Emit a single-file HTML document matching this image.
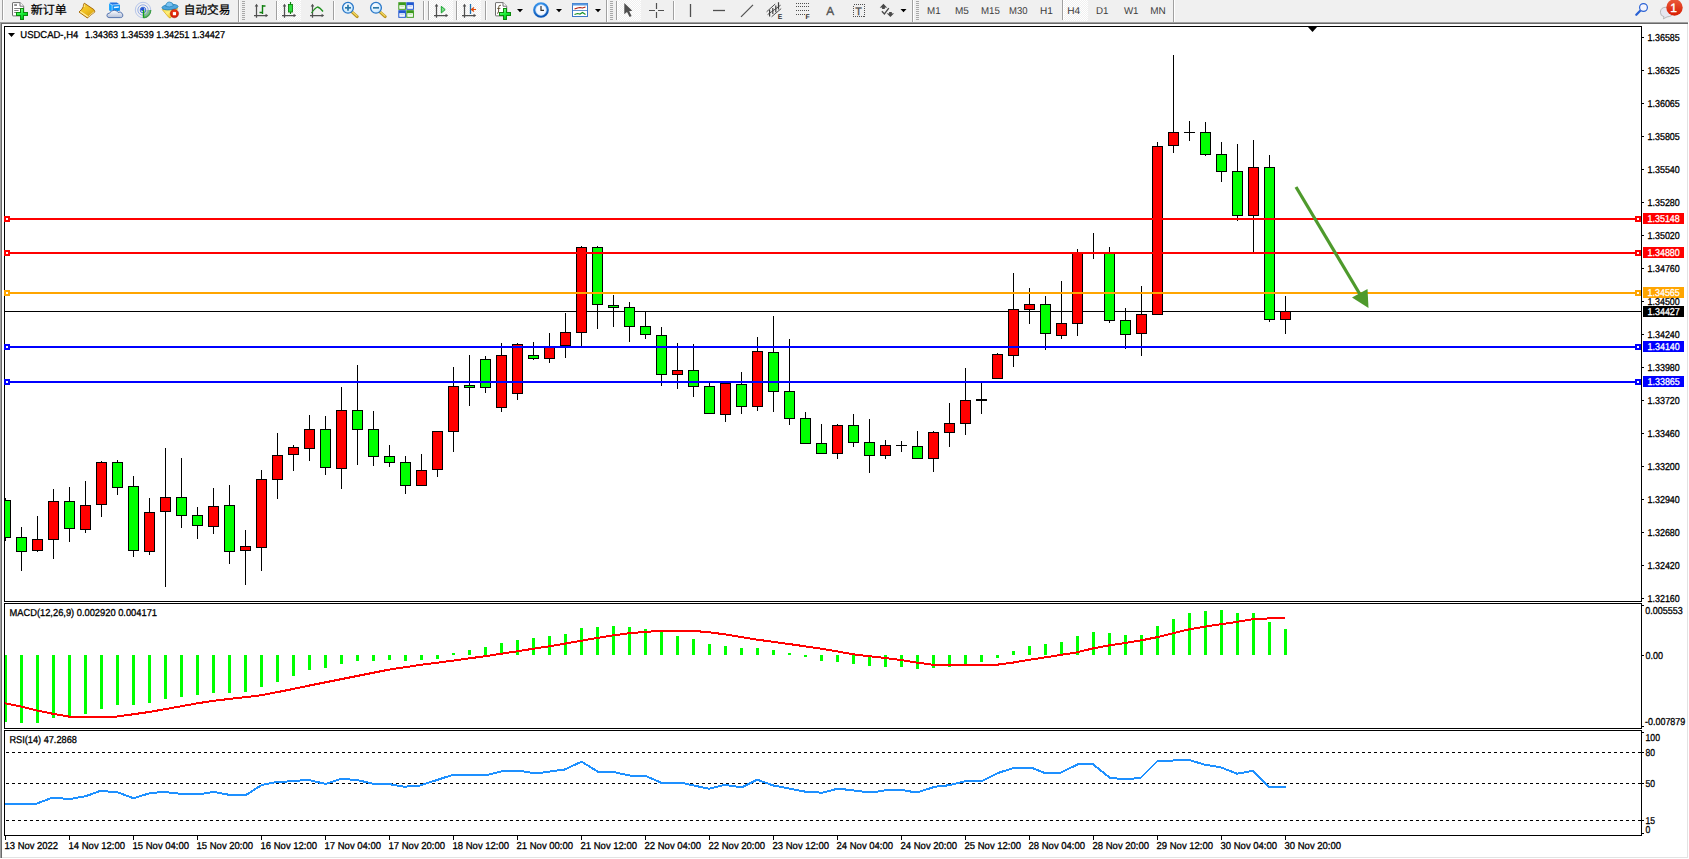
<!DOCTYPE html>
<html lang="zh"><head><meta charset="utf-8"><title>USDCAD-,H4</title>
<style>html,body{margin:0;padding:0;background:#fff;overflow:hidden}svg{display:block}text{font-family:"Liberation Sans", "Noto Sans CJK SC", sans-serif;text-rendering:geometricPrecision}.ax{font-size:10px;fill:#000;stroke:#000;stroke-width:0.3px}.tb{font-size:10px;fill:#3c3c3c;stroke:none}.cj{font-size:12px;fill:#000;stroke:#000;stroke-width:0.25px}</style></head><body>
<svg width="1689" height="859" viewBox="0 0 1689 859">
<defs><pattern id="chk" width="2" height="2" patternUnits="userSpaceOnUse"><rect width="2" height="2" fill="#f0f0f0"/><rect width="1" height="1" fill="#fff"/><rect x="1" y="1" width="1" height="1" fill="#fff"/></pattern><linearGradient id="gplus" x1="0" y1="0" x2="0.6" y2="1"><stop offset="0" stop-color="#9dffa0"/><stop offset="0.55" stop-color="#1cf03a"/><stop offset="1" stop-color="#00c018"/></linearGradient><linearGradient id="gold" x1="0.2" y1="0" x2="0.8" y2="1"><stop offset="0" stop-color="#f6cf3a"/><stop offset="0.5" stop-color="#f0c020"/><stop offset="1" stop-color="#d09a10"/></linearGradient><linearGradient id="cloud" x1="0" y1="0" x2="0" y2="1"><stop offset="0" stop-color="#ffffff"/><stop offset="1" stop-color="#b4c0d8"/></linearGradient><radialGradient id="sig" cx="0" cy="0" r="1"><stop offset="0" stop-color="#e6f2e0"/><stop offset="0.6" stop-color="#a8d4a0"/><stop offset="1" stop-color="#4aa84e"/></radialGradient><linearGradient id="face" x1="0" y1="0" x2="0.6" y2="1"><stop offset="0" stop-color="#f6d640"/><stop offset="0.5" stop-color="#fff07a"/><stop offset="1" stop-color="#ecc020"/></linearGradient><radialGradient id="stop" cx="0.5" cy="0.4" r="0.6"><stop offset="0" stop-color="#ff4a20"/><stop offset="1" stop-color="#c81400"/></radialGradient><linearGradient id="blu" x1="0" y1="0" x2="0" y2="1"><stop offset="0" stop-color="#6db6ff"/><stop offset="1" stop-color="#1560c8"/></linearGradient><radialGradient id="lens" cx="0.4" cy="0.35" r="0.7"><stop offset="0" stop-color="#ffffff"/><stop offset="1" stop-color="#bfe4ff"/></radialGradient><linearGradient id="clk" x1="0" y1="0" x2="0.3" y2="1"><stop offset="0" stop-color="#3a98f0"/><stop offset="1" stop-color="#0c58b8"/></linearGradient><linearGradient id="badge" x1="0" y1="0" x2="0" y2="1"><stop offset="0" stop-color="#ea5a3a"/><stop offset="1" stop-color="#d81c00"/></linearGradient><clipPath id="plot"><rect x="5" y="27" width="1636" height="808"/></clipPath></defs>
<rect x="0" y="0" width="1689" height="859" fill="#ffffff"/>
<rect x="0" y="0" width="1689" height="22" fill="#f0f0f0"/>
<g shape-rendering="crispEdges">
<rect x="0" y="22" width="1689" height="1" fill="#a0a0a0"/>
<rect x="0" y="23" width="1689" height="1" fill="#696969"/>
<rect x="0" y="22" width="1" height="837" fill="#a0a0a0"/>
<rect x="1" y="23" width="1" height="836" fill="#696969"/>
<rect x="1687" y="24" width="1" height="835" fill="#e3e3e3"/>
<rect x="1688" y="22" width="1" height="837" fill="#ffffff"/>
<rect x="2" y="857" width="1686" height="1" fill="#e3e3e3"/>
<rect x="0" y="858" width="1689" height="1" fill="#ffffff"/>
<rect x="4" y="26" width="1" height="810" fill="#000"/>
<rect x="1641" y="26" width="1" height="810" fill="#000"/>
<rect x="4" y="26" width="1638" height="1" fill="#000"/>
<rect x="4" y="601" width="1638" height="1" fill="#000"/>
<rect x="4" y="603" width="1638" height="1" fill="#000"/>
<rect x="4" y="728" width="1638" height="1" fill="#000"/>
<rect x="4" y="730" width="1638" height="1" fill="#000"/>
<rect x="4" y="835" width="1638" height="1" fill="#000"/>
<rect x="4" y="602" width="1638" height="1" fill="#fff"/>
<rect x="4" y="729" width="1638" height="1" fill="#fff"/>
</g>
<g shape-rendering="crispEdges">
<rect x="5" y="218" width="1636" height="2" fill="#ff0000"/>
<rect x="1643" y="213" width="41" height="11" fill="#ff0000"/>
<rect x="5" y="252" width="1636" height="2" fill="#ff0000"/>
<rect x="1643" y="247" width="41" height="11" fill="#ff0000"/>
<rect x="5" y="292" width="1636" height="2" fill="#ffa500"/>
<rect x="1643" y="287" width="41" height="11" fill="#ffa500"/>
<rect x="5" y="311" width="1636" height="1" fill="#000"/>
<rect x="1643" y="306" width="41" height="11" fill="#000"/>
<rect x="5" y="346" width="1636" height="2" fill="#0000ff"/>
<rect x="1643" y="341" width="41" height="11" fill="#0000ff"/>
<rect x="5" y="381" width="1636" height="2" fill="#0000ff"/>
<rect x="1643" y="376" width="41" height="11" fill="#0000ff"/>
</g>
<g shape-rendering="crispEdges" clip-path="url(#plot)">
<rect x="5" y="498" width="1" height="43" fill="#000"/>
<rect x="0" y="500" width="11" height="38" fill="#000"/>
<rect x="1" y="501" width="9" height="36" fill="#00ff00"/>
<rect x="21" y="527" width="1" height="44" fill="#000"/>
<rect x="16" y="537" width="11" height="15" fill="#000"/>
<rect x="17" y="538" width="9" height="13" fill="#00ff00"/>
<rect x="37" y="516" width="1" height="36" fill="#000"/>
<rect x="32" y="539" width="11" height="12" fill="#000"/>
<rect x="33" y="540" width="9" height="10" fill="#ff0000"/>
<rect x="53" y="489" width="1" height="70" fill="#000"/>
<rect x="48" y="501" width="11" height="39" fill="#000"/>
<rect x="49" y="502" width="9" height="37" fill="#ff0000"/>
<rect x="69" y="487" width="1" height="55" fill="#000"/>
<rect x="64" y="501" width="11" height="28" fill="#000"/>
<rect x="65" y="502" width="9" height="26" fill="#00ff00"/>
<rect x="85" y="481" width="1" height="52" fill="#000"/>
<rect x="80" y="505" width="11" height="25" fill="#000"/>
<rect x="81" y="506" width="9" height="23" fill="#ff0000"/>
<rect x="101" y="461" width="1" height="56" fill="#000"/>
<rect x="96" y="462" width="11" height="43" fill="#000"/>
<rect x="97" y="463" width="9" height="41" fill="#ff0000"/>
<rect x="117" y="460" width="1" height="35" fill="#000"/>
<rect x="112" y="462" width="11" height="26" fill="#000"/>
<rect x="113" y="463" width="9" height="24" fill="#00ff00"/>
<rect x="133" y="476" width="1" height="81" fill="#000"/>
<rect x="128" y="486" width="11" height="65" fill="#000"/>
<rect x="129" y="487" width="9" height="63" fill="#00ff00"/>
<rect x="149" y="498" width="1" height="57" fill="#000"/>
<rect x="144" y="512" width="11" height="40" fill="#000"/>
<rect x="145" y="513" width="9" height="38" fill="#ff0000"/>
<rect x="165" y="448" width="1" height="139" fill="#000"/>
<rect x="160" y="497" width="11" height="15" fill="#000"/>
<rect x="161" y="498" width="9" height="13" fill="#ff0000"/>
<rect x="181" y="458" width="1" height="70" fill="#000"/>
<rect x="176" y="497" width="11" height="19" fill="#000"/>
<rect x="177" y="498" width="9" height="17" fill="#00ff00"/>
<rect x="197" y="507" width="1" height="32" fill="#000"/>
<rect x="192" y="515" width="11" height="11" fill="#000"/>
<rect x="193" y="516" width="9" height="9" fill="#00ff00"/>
<rect x="213" y="488" width="1" height="46" fill="#000"/>
<rect x="208" y="506" width="11" height="21" fill="#000"/>
<rect x="209" y="507" width="9" height="19" fill="#ff0000"/>
<rect x="229" y="485" width="1" height="79" fill="#000"/>
<rect x="224" y="505" width="11" height="47" fill="#000"/>
<rect x="225" y="506" width="9" height="45" fill="#00ff00"/>
<rect x="245" y="530" width="1" height="55" fill="#000"/>
<rect x="240" y="546" width="11" height="5" fill="#000"/>
<rect x="241" y="547" width="9" height="3" fill="#ff0000"/>
<rect x="261" y="470" width="1" height="101" fill="#000"/>
<rect x="256" y="479" width="11" height="69" fill="#000"/>
<rect x="257" y="480" width="9" height="67" fill="#ff0000"/>
<rect x="277" y="433" width="1" height="66" fill="#000"/>
<rect x="272" y="455" width="11" height="25" fill="#000"/>
<rect x="273" y="456" width="9" height="23" fill="#ff0000"/>
<rect x="293" y="445" width="1" height="26" fill="#000"/>
<rect x="288" y="447" width="11" height="8" fill="#000"/>
<rect x="289" y="448" width="9" height="6" fill="#ff0000"/>
<rect x="309" y="415" width="1" height="46" fill="#000"/>
<rect x="304" y="429" width="11" height="20" fill="#000"/>
<rect x="305" y="430" width="9" height="18" fill="#ff0000"/>
<rect x="325" y="416" width="1" height="59" fill="#000"/>
<rect x="320" y="429" width="11" height="39" fill="#000"/>
<rect x="321" y="430" width="9" height="37" fill="#00ff00"/>
<rect x="341" y="387" width="1" height="102" fill="#000"/>
<rect x="336" y="410" width="11" height="59" fill="#000"/>
<rect x="337" y="411" width="9" height="57" fill="#ff0000"/>
<rect x="357" y="365" width="1" height="100" fill="#000"/>
<rect x="352" y="410" width="11" height="20" fill="#000"/>
<rect x="353" y="411" width="9" height="18" fill="#00ff00"/>
<rect x="373" y="411" width="1" height="55" fill="#000"/>
<rect x="368" y="429" width="11" height="28" fill="#000"/>
<rect x="369" y="430" width="9" height="26" fill="#00ff00"/>
<rect x="389" y="445" width="1" height="22" fill="#000"/>
<rect x="384" y="456" width="11" height="7" fill="#000"/>
<rect x="385" y="457" width="9" height="5" fill="#00ff00"/>
<rect x="405" y="456" width="1" height="38" fill="#000"/>
<rect x="400" y="462" width="11" height="24" fill="#000"/>
<rect x="401" y="463" width="9" height="22" fill="#00ff00"/>
<rect x="421" y="454" width="1" height="32" fill="#000"/>
<rect x="416" y="470" width="11" height="16" fill="#000"/>
<rect x="417" y="471" width="9" height="14" fill="#ff0000"/>
<rect x="437" y="431" width="1" height="46" fill="#000"/>
<rect x="432" y="431" width="11" height="39" fill="#000"/>
<rect x="433" y="432" width="9" height="37" fill="#ff0000"/>
<rect x="453" y="367" width="1" height="85" fill="#000"/>
<rect x="448" y="386" width="11" height="46" fill="#000"/>
<rect x="449" y="387" width="9" height="44" fill="#ff0000"/>
<rect x="469" y="355" width="1" height="51" fill="#000"/>
<rect x="464" y="385" width="11" height="3" fill="#000"/>
<rect x="465" y="386" width="9" height="1" fill="#00ff00"/>
<rect x="485" y="356" width="1" height="37" fill="#000"/>
<rect x="480" y="359" width="11" height="29" fill="#000"/>
<rect x="481" y="360" width="9" height="27" fill="#00ff00"/>
<rect x="501" y="343" width="1" height="69" fill="#000"/>
<rect x="496" y="355" width="11" height="53" fill="#000"/>
<rect x="497" y="356" width="9" height="51" fill="#ff0000"/>
<rect x="517" y="343" width="1" height="57" fill="#000"/>
<rect x="512" y="344" width="11" height="50" fill="#000"/>
<rect x="513" y="345" width="9" height="48" fill="#ff0000"/>
<rect x="533" y="342" width="1" height="18" fill="#000"/>
<rect x="528" y="355" width="11" height="4" fill="#000"/>
<rect x="529" y="356" width="9" height="2" fill="#00ff00"/>
<rect x="549" y="333" width="1" height="30" fill="#000"/>
<rect x="544" y="346" width="11" height="13" fill="#000"/>
<rect x="545" y="347" width="9" height="11" fill="#ff0000"/>
<rect x="565" y="313" width="1" height="45" fill="#000"/>
<rect x="560" y="332" width="11" height="14" fill="#000"/>
<rect x="561" y="333" width="9" height="12" fill="#ff0000"/>
<rect x="581" y="246" width="1" height="100" fill="#000"/>
<rect x="576" y="247" width="11" height="86" fill="#000"/>
<rect x="577" y="248" width="9" height="84" fill="#ff0000"/>
<rect x="597" y="246" width="1" height="83" fill="#000"/>
<rect x="592" y="247" width="11" height="58" fill="#000"/>
<rect x="593" y="248" width="9" height="56" fill="#00ff00"/>
<rect x="613" y="295" width="1" height="32" fill="#000"/>
<rect x="608" y="305" width="11" height="3" fill="#000"/>
<rect x="609" y="306" width="9" height="1" fill="#00ff00"/>
<rect x="629" y="302" width="1" height="40" fill="#000"/>
<rect x="624" y="307" width="11" height="20" fill="#000"/>
<rect x="625" y="308" width="9" height="18" fill="#00ff00"/>
<rect x="645" y="311" width="1" height="28" fill="#000"/>
<rect x="640" y="326" width="11" height="9" fill="#000"/>
<rect x="641" y="327" width="9" height="7" fill="#00ff00"/>
<rect x="661" y="327" width="1" height="59" fill="#000"/>
<rect x="656" y="335" width="11" height="40" fill="#000"/>
<rect x="657" y="336" width="9" height="38" fill="#00ff00"/>
<rect x="677" y="343" width="1" height="46" fill="#000"/>
<rect x="672" y="370" width="11" height="5" fill="#000"/>
<rect x="673" y="371" width="9" height="3" fill="#ff0000"/>
<rect x="693" y="344" width="1" height="53" fill="#000"/>
<rect x="688" y="370" width="11" height="17" fill="#000"/>
<rect x="689" y="371" width="9" height="15" fill="#00ff00"/>
<rect x="709" y="383" width="1" height="31" fill="#000"/>
<rect x="704" y="386" width="11" height="28" fill="#000"/>
<rect x="705" y="387" width="9" height="26" fill="#00ff00"/>
<rect x="725" y="383" width="1" height="39" fill="#000"/>
<rect x="720" y="383" width="11" height="32" fill="#000"/>
<rect x="721" y="384" width="9" height="30" fill="#ff0000"/>
<rect x="741" y="372" width="1" height="42" fill="#000"/>
<rect x="736" y="384" width="11" height="23" fill="#000"/>
<rect x="737" y="385" width="9" height="21" fill="#00ff00"/>
<rect x="757" y="337" width="1" height="74" fill="#000"/>
<rect x="752" y="351" width="11" height="56" fill="#000"/>
<rect x="753" y="352" width="9" height="54" fill="#ff0000"/>
<rect x="773" y="316" width="1" height="96" fill="#000"/>
<rect x="768" y="352" width="11" height="40" fill="#000"/>
<rect x="769" y="353" width="9" height="38" fill="#00ff00"/>
<rect x="789" y="339" width="1" height="86" fill="#000"/>
<rect x="784" y="391" width="11" height="28" fill="#000"/>
<rect x="785" y="392" width="9" height="26" fill="#00ff00"/>
<rect x="805" y="412" width="1" height="32" fill="#000"/>
<rect x="800" y="418" width="11" height="26" fill="#000"/>
<rect x="801" y="419" width="9" height="24" fill="#00ff00"/>
<rect x="821" y="424" width="1" height="30" fill="#000"/>
<rect x="816" y="443" width="11" height="11" fill="#000"/>
<rect x="817" y="444" width="9" height="9" fill="#00ff00"/>
<rect x="837" y="424" width="1" height="35" fill="#000"/>
<rect x="832" y="425" width="11" height="29" fill="#000"/>
<rect x="833" y="426" width="9" height="27" fill="#ff0000"/>
<rect x="853" y="414" width="1" height="33" fill="#000"/>
<rect x="848" y="425" width="11" height="18" fill="#000"/>
<rect x="849" y="426" width="9" height="16" fill="#00ff00"/>
<rect x="869" y="419" width="1" height="54" fill="#000"/>
<rect x="864" y="442" width="11" height="14" fill="#000"/>
<rect x="865" y="443" width="9" height="12" fill="#00ff00"/>
<rect x="885" y="440" width="1" height="19" fill="#000"/>
<rect x="880" y="445" width="11" height="11" fill="#000"/>
<rect x="881" y="446" width="9" height="9" fill="#ff0000"/>
<rect x="901" y="441" width="1" height="11" fill="#000"/>
<rect x="896" y="445" width="11" height="1" fill="#000"/>
<rect x="917" y="431" width="1" height="28" fill="#000"/>
<rect x="912" y="446" width="11" height="13" fill="#000"/>
<rect x="913" y="447" width="9" height="11" fill="#00ff00"/>
<rect x="933" y="431" width="1" height="41" fill="#000"/>
<rect x="928" y="432" width="11" height="27" fill="#000"/>
<rect x="929" y="433" width="9" height="25" fill="#ff0000"/>
<rect x="949" y="403" width="1" height="44" fill="#000"/>
<rect x="944" y="423" width="11" height="10" fill="#000"/>
<rect x="945" y="424" width="9" height="8" fill="#ff0000"/>
<rect x="965" y="368" width="1" height="67" fill="#000"/>
<rect x="960" y="400" width="11" height="24" fill="#000"/>
<rect x="961" y="401" width="9" height="22" fill="#ff0000"/>
<rect x="981" y="383" width="1" height="31" fill="#000"/>
<rect x="976" y="399" width="11" height="2" fill="#000"/>
<rect x="997" y="353" width="1" height="26" fill="#000"/>
<rect x="992" y="354" width="11" height="25" fill="#000"/>
<rect x="993" y="355" width="9" height="23" fill="#ff0000"/>
<rect x="1013" y="273" width="1" height="94" fill="#000"/>
<rect x="1008" y="309" width="11" height="47" fill="#000"/>
<rect x="1009" y="310" width="9" height="45" fill="#ff0000"/>
<rect x="1029" y="288" width="1" height="36" fill="#000"/>
<rect x="1024" y="304" width="11" height="6" fill="#000"/>
<rect x="1025" y="305" width="9" height="4" fill="#ff0000"/>
<rect x="1045" y="296" width="1" height="54" fill="#000"/>
<rect x="1040" y="304" width="11" height="30" fill="#000"/>
<rect x="1041" y="305" width="9" height="28" fill="#00ff00"/>
<rect x="1061" y="281" width="1" height="58" fill="#000"/>
<rect x="1056" y="323" width="11" height="13" fill="#000"/>
<rect x="1057" y="324" width="9" height="11" fill="#ff0000"/>
<rect x="1077" y="249" width="1" height="87" fill="#000"/>
<rect x="1072" y="252" width="11" height="72" fill="#000"/>
<rect x="1073" y="253" width="9" height="70" fill="#ff0000"/>
<rect x="1093" y="233" width="1" height="26" fill="#000"/>
<rect x="1088" y="252" width="11" height="1" fill="#000"/>
<rect x="1109" y="247" width="1" height="76" fill="#000"/>
<rect x="1104" y="252" width="11" height="69" fill="#000"/>
<rect x="1105" y="253" width="9" height="67" fill="#00ff00"/>
<rect x="1125" y="308" width="1" height="41" fill="#000"/>
<rect x="1120" y="320" width="11" height="15" fill="#000"/>
<rect x="1121" y="321" width="9" height="13" fill="#00ff00"/>
<rect x="1141" y="286" width="1" height="70" fill="#000"/>
<rect x="1136" y="314" width="11" height="20" fill="#000"/>
<rect x="1137" y="315" width="9" height="18" fill="#ff0000"/>
<rect x="1157" y="142" width="1" height="173" fill="#000"/>
<rect x="1152" y="146" width="11" height="169" fill="#000"/>
<rect x="1153" y="147" width="9" height="167" fill="#ff0000"/>
<rect x="1173" y="55" width="1" height="98" fill="#000"/>
<rect x="1168" y="132" width="11" height="14" fill="#000"/>
<rect x="1169" y="133" width="9" height="12" fill="#ff0000"/>
<rect x="1189" y="121" width="1" height="20" fill="#000"/>
<rect x="1184" y="132" width="11" height="1" fill="#000"/>
<rect x="1205" y="122" width="1" height="34" fill="#000"/>
<rect x="1200" y="132" width="11" height="23" fill="#000"/>
<rect x="1201" y="133" width="9" height="21" fill="#00ff00"/>
<rect x="1221" y="142" width="1" height="40" fill="#000"/>
<rect x="1216" y="154" width="11" height="18" fill="#000"/>
<rect x="1217" y="155" width="9" height="16" fill="#00ff00"/>
<rect x="1237" y="144" width="1" height="77" fill="#000"/>
<rect x="1232" y="171" width="11" height="45" fill="#000"/>
<rect x="1233" y="172" width="9" height="43" fill="#00ff00"/>
<rect x="1253" y="140" width="1" height="112" fill="#000"/>
<rect x="1248" y="167" width="11" height="49" fill="#000"/>
<rect x="1249" y="168" width="9" height="47" fill="#ff0000"/>
<rect x="1269" y="155" width="1" height="167" fill="#000"/>
<rect x="1264" y="167" width="11" height="153" fill="#000"/>
<rect x="1265" y="168" width="9" height="151" fill="#00ff00"/>
<rect x="1285" y="296" width="1" height="38" fill="#000"/>
<rect x="1280" y="311" width="11" height="9" fill="#000"/>
<rect x="1281" y="312" width="9" height="7" fill="#ff0000"/>
</g>
<g shape-rendering="crispEdges">
<rect x="5" y="218" width="1636" height="2" fill="#ff0000"/>
<rect x="4" y="216" width="6" height="6" fill="#ff0000"/>
<rect x="6" y="218" width="2" height="2" fill="#fff"/>
<rect x="1635" y="216" width="6" height="6" fill="#ff0000"/>
<rect x="1637" y="218" width="2" height="2" fill="#fff"/>
<rect x="5" y="252" width="1636" height="2" fill="#ff0000"/>
<rect x="4" y="250" width="6" height="6" fill="#ff0000"/>
<rect x="6" y="252" width="2" height="2" fill="#fff"/>
<rect x="1635" y="250" width="6" height="6" fill="#ff0000"/>
<rect x="1637" y="252" width="2" height="2" fill="#fff"/>
<rect x="5" y="292" width="1636" height="2" fill="#ffa500"/>
<rect x="4" y="290" width="6" height="6" fill="#ffa500"/>
<rect x="6" y="292" width="2" height="2" fill="#fff"/>
<rect x="1635" y="290" width="6" height="6" fill="#ffa500"/>
<rect x="1637" y="292" width="2" height="2" fill="#fff"/>
<rect x="5" y="346" width="1636" height="2" fill="#0000ff"/>
<rect x="4" y="344" width="6" height="6" fill="#0000ff"/>
<rect x="6" y="346" width="2" height="2" fill="#fff"/>
<rect x="1635" y="344" width="6" height="6" fill="#0000ff"/>
<rect x="1637" y="346" width="2" height="2" fill="#fff"/>
<rect x="5" y="381" width="1636" height="2" fill="#0000ff"/>
<rect x="4" y="379" width="6" height="6" fill="#0000ff"/>
<rect x="6" y="381" width="2" height="2" fill="#fff"/>
<rect x="1635" y="379" width="6" height="6" fill="#0000ff"/>
<rect x="1637" y="381" width="2" height="2" fill="#fff"/>
</g>
<polygon points="1307.5,26.5 1317.5,26.5 1312.5,32" fill="#000"/>
<line x1="1296" y1="187" x2="1361" y2="296" stroke="#4e9a2c" stroke-width="3.2"/>
<polygon points="1368.5,308 1352,297.5 1367.5,289" fill="#4e9a2c"/>
<g shape-rendering="crispEdges" clip-path="url(#plot)">
<rect x="4" y="655" width="3" height="67" fill="#00ff00"/>
<rect x="20" y="655" width="3" height="68" fill="#00ff00"/>
<rect x="36" y="655" width="3" height="68" fill="#00ff00"/>
<rect x="52" y="655" width="3" height="63" fill="#00ff00"/>
<rect x="68" y="655" width="3" height="62" fill="#00ff00"/>
<rect x="84" y="655" width="3" height="59" fill="#00ff00"/>
<rect x="100" y="655" width="3" height="54" fill="#00ff00"/>
<rect x="116" y="655" width="3" height="50" fill="#00ff00"/>
<rect x="132" y="655" width="3" height="50" fill="#00ff00"/>
<rect x="148" y="655" width="3" height="48" fill="#00ff00"/>
<rect x="164" y="655" width="3" height="44" fill="#00ff00"/>
<rect x="180" y="655" width="3" height="42" fill="#00ff00"/>
<rect x="196" y="655" width="3" height="40" fill="#00ff00"/>
<rect x="212" y="655" width="3" height="38" fill="#00ff00"/>
<rect x="228" y="655" width="3" height="38" fill="#00ff00"/>
<rect x="244" y="655" width="3" height="37" fill="#00ff00"/>
<rect x="260" y="655" width="3" height="32" fill="#00ff00"/>
<rect x="276" y="655" width="3" height="27" fill="#00ff00"/>
<rect x="292" y="655" width="3" height="21" fill="#00ff00"/>
<rect x="308" y="655" width="3" height="15" fill="#00ff00"/>
<rect x="324" y="655" width="3" height="13" fill="#00ff00"/>
<rect x="340" y="655" width="3" height="9" fill="#00ff00"/>
<rect x="356" y="655" width="3" height="6" fill="#00ff00"/>
<rect x="372" y="655" width="3" height="6" fill="#00ff00"/>
<rect x="388" y="655" width="3" height="5" fill="#00ff00"/>
<rect x="404" y="655" width="3" height="6" fill="#00ff00"/>
<rect x="420" y="655" width="3" height="5" fill="#00ff00"/>
<rect x="436" y="655" width="3" height="4" fill="#00ff00"/>
<rect x="452" y="653" width="3" height="2" fill="#00ff00"/>
<rect x="468" y="650" width="3" height="5" fill="#00ff00"/>
<rect x="484" y="647" width="3" height="8" fill="#00ff00"/>
<rect x="500" y="643" width="3" height="12" fill="#00ff00"/>
<rect x="516" y="640" width="3" height="15" fill="#00ff00"/>
<rect x="532" y="638" width="3" height="17" fill="#00ff00"/>
<rect x="548" y="636" width="3" height="19" fill="#00ff00"/>
<rect x="564" y="634" width="3" height="21" fill="#00ff00"/>
<rect x="580" y="628" width="3" height="27" fill="#00ff00"/>
<rect x="596" y="627" width="3" height="28" fill="#00ff00"/>
<rect x="612" y="626" width="3" height="29" fill="#00ff00"/>
<rect x="628" y="627" width="3" height="28" fill="#00ff00"/>
<rect x="644" y="629" width="3" height="26" fill="#00ff00"/>
<rect x="660" y="632" width="3" height="23" fill="#00ff00"/>
<rect x="676" y="636" width="3" height="19" fill="#00ff00"/>
<rect x="692" y="639" width="3" height="16" fill="#00ff00"/>
<rect x="708" y="644" width="3" height="11" fill="#00ff00"/>
<rect x="724" y="646" width="3" height="9" fill="#00ff00"/>
<rect x="740" y="648" width="3" height="7" fill="#00ff00"/>
<rect x="756" y="648" width="3" height="7" fill="#00ff00"/>
<rect x="772" y="650" width="3" height="5" fill="#00ff00"/>
<rect x="788" y="653" width="3" height="2" fill="#00ff00"/>
<rect x="804" y="655" width="3" height="2" fill="#00ff00"/>
<rect x="820" y="655" width="3" height="6" fill="#00ff00"/>
<rect x="836" y="655" width="3" height="7" fill="#00ff00"/>
<rect x="852" y="655" width="3" height="9" fill="#00ff00"/>
<rect x="868" y="655" width="3" height="11" fill="#00ff00"/>
<rect x="884" y="655" width="3" height="12" fill="#00ff00"/>
<rect x="900" y="655" width="3" height="12" fill="#00ff00"/>
<rect x="916" y="655" width="3" height="14" fill="#00ff00"/>
<rect x="932" y="655" width="3" height="13" fill="#00ff00"/>
<rect x="948" y="655" width="3" height="12" fill="#00ff00"/>
<rect x="964" y="655" width="3" height="9" fill="#00ff00"/>
<rect x="980" y="655" width="3" height="7" fill="#00ff00"/>
<rect x="996" y="655" width="3" height="3" fill="#00ff00"/>
<rect x="1012" y="651" width="3" height="4" fill="#00ff00"/>
<rect x="1028" y="646" width="3" height="9" fill="#00ff00"/>
<rect x="1044" y="644" width="3" height="11" fill="#00ff00"/>
<rect x="1060" y="642" width="3" height="13" fill="#00ff00"/>
<rect x="1076" y="636" width="3" height="19" fill="#00ff00"/>
<rect x="1092" y="632" width="3" height="23" fill="#00ff00"/>
<rect x="1108" y="633" width="3" height="22" fill="#00ff00"/>
<rect x="1124" y="635" width="3" height="20" fill="#00ff00"/>
<rect x="1140" y="635" width="3" height="20" fill="#00ff00"/>
<rect x="1156" y="626" width="3" height="29" fill="#00ff00"/>
<rect x="1172" y="619" width="3" height="36" fill="#00ff00"/>
<rect x="1188" y="613" width="3" height="42" fill="#00ff00"/>
<rect x="1204" y="611" width="3" height="44" fill="#00ff00"/>
<rect x="1220" y="610" width="3" height="45" fill="#00ff00"/>
<rect x="1236" y="613" width="3" height="42" fill="#00ff00"/>
<rect x="1252" y="613" width="3" height="42" fill="#00ff00"/>
<rect x="1268" y="622" width="3" height="33" fill="#00ff00"/>
<rect x="1284" y="629" width="3" height="26" fill="#00ff00"/>
</g>
<polyline points="5,703.3 21,706.5 37,710.5 53,713.8 69,716.6 85,716.8 101,716.8 116,716.6 133,714.3 149,712 165,709.2 181,706.3 197,703.4 213,700.8 229,699 245,697.2 261,695.2 277,692.2 293,689 309,685.6 325,682.4 341,679.2 357,676 373,672.8 389,669.6 405,667.2 421,664.8 437,662.8 453,660.6 469,658.4 485,656.2 501,653.8 517,651.3 533,648.8 549,646.3 565,643.6 581,640.8 597,638 613,635.4 629,633.3 645,631.9 661,630.9 677,630.7 693,630.9 709,632.2 725,634.4 741,637 757,639.6 773,641.8 789,644 805,646.3 821,648.7 837,651.4 853,654.2 869,656.2 885,658 901,660 917,662.6 933,664.8 949,664.9 965,664.9 981,664.9 997,664.7 1013,662.6 1029,659.8 1045,657.4 1061,654.9 1077,652.3 1093,648.4 1109,645.4 1125,643 1141,640.4 1157,637.2 1173,633.2 1189,629.4 1205,626.6 1221,624.2 1237,621.9 1253,619.2 1269,618.4 1285,617.9" fill="none" stroke="#ff0000" stroke-width="2" stroke-linejoin="round" shape-rendering="crispEdges" clip-path="url(#plot)"/>
<g shape-rendering="crispEdges">
<line x1="6" y1="752.5" x2="1641" y2="752.5" stroke="#000" stroke-width="1" stroke-dasharray="3,3"/>
<line x1="6" y1="783.5" x2="1641" y2="783.5" stroke="#000" stroke-width="1" stroke-dasharray="3,3"/>
<line x1="6" y1="820.5" x2="1641" y2="820.5" stroke="#000" stroke-width="1" stroke-dasharray="3,3"/>
</g>
<polyline points="5,803.7 36.5,803.7 52.1,797.7 70.3,799 86,796.1 100.3,790.9 117.2,792.2 133.4,798.2 149.8,793.2 164.1,791.9 182.3,794 200.6,794 213.6,791.9 229.2,794.8 246.2,794.8 261.8,784.9 277.4,781.8 293,781.3 307.4,779.7 325.6,783.9 341.2,778.9 356.9,780 372.5,783.6 388.1,783.9 403.8,786.7 419.4,785.7 453.9,774.5 489,774.5 503.4,770.8 520.3,770.8 532,772.9 539.8,772.9 564.6,769.5 581.5,761.7 598.4,771.9 612.8,771.9 631,775.8 645.3,775.8 660.9,782.6 680.5,782.6 709.1,788.8 724.8,784.9 741.7,787.3 757.3,779.7 773,785.4 805.5,791.7 822.4,792.7 838.1,788.6 863.4,791.7 876.5,791.7 888.2,789.9 901.2,789.9 911.6,791.7 919.4,791.7 935.1,786.7 949.4,785.2 966.3,781 982,781 998.9,772.7 1014.5,767.7 1031.5,767.7 1044.5,772.9 1060.1,772.9 1078.3,764.1 1092.7,764.1 1109.6,777.6 1120,778.9 1131.7,778.9 1140.9,777.6 1157.8,760.7 1172.1,760.7 1177.3,759.6 1187.8,759.6 1204.7,764.6 1220.3,767.2 1237.2,773.7 1252.9,770.8 1268.5,786.7 1285.5,786.7" fill="none" stroke="#1e90ff" stroke-width="2" stroke-linejoin="round" shape-rendering="crispEdges" clip-path="url(#plot)"/>
<g shape-rendering="crispEdges">
<rect x="1642" y="37" width="2" height="1" fill="#000"/>
<rect x="1642" y="70" width="2" height="1" fill="#000"/>
<rect x="1642" y="103" width="2" height="1" fill="#000"/>
<rect x="1642" y="136" width="2" height="1" fill="#000"/>
<rect x="1642" y="169" width="2" height="1" fill="#000"/>
<rect x="1642" y="202" width="2" height="1" fill="#000"/>
<rect x="1642" y="235" width="2" height="1" fill="#000"/>
<rect x="1642" y="268" width="2" height="1" fill="#000"/>
<rect x="1642" y="301" width="2" height="1" fill="#000"/>
<rect x="1642" y="334" width="2" height="1" fill="#000"/>
<rect x="1642" y="367" width="2" height="1" fill="#000"/>
<rect x="1642" y="400" width="2" height="1" fill="#000"/>
<rect x="1642" y="433" width="2" height="1" fill="#000"/>
<rect x="1642" y="466" width="2" height="1" fill="#000"/>
<rect x="1642" y="499" width="2" height="1" fill="#000"/>
<rect x="1642" y="532" width="2" height="1" fill="#000"/>
<rect x="1642" y="565" width="2" height="1" fill="#000"/>
<rect x="1642" y="598" width="2" height="1" fill="#000"/>
<rect x="1642" y="605" width="2" height="1" fill="#000"/>
<rect x="1642" y="655" width="2" height="1" fill="#000"/>
<rect x="1642" y="726" width="2" height="1" fill="#000"/>
<rect x="1642" y="732" width="2" height="1" fill="#000"/>
<rect x="1642" y="752" width="2" height="1" fill="#000"/>
<rect x="1642" y="783" width="2" height="1" fill="#000"/>
<rect x="1642" y="820" width="2" height="1" fill="#000"/>
<rect x="1642" y="833" width="2" height="1" fill="#000"/>
<rect x="5" y="836" width="1" height="4" fill="#000"/>
<rect x="69" y="836" width="1" height="4" fill="#000"/>
<rect x="133" y="836" width="1" height="4" fill="#000"/>
<rect x="197" y="836" width="1" height="4" fill="#000"/>
<rect x="261" y="836" width="1" height="4" fill="#000"/>
<rect x="325" y="836" width="1" height="4" fill="#000"/>
<rect x="389" y="836" width="1" height="4" fill="#000"/>
<rect x="453" y="836" width="1" height="4" fill="#000"/>
<rect x="517" y="836" width="1" height="4" fill="#000"/>
<rect x="581" y="836" width="1" height="4" fill="#000"/>
<rect x="645" y="836" width="1" height="4" fill="#000"/>
<rect x="709" y="836" width="1" height="4" fill="#000"/>
<rect x="773" y="836" width="1" height="4" fill="#000"/>
<rect x="837" y="836" width="1" height="4" fill="#000"/>
<rect x="901" y="836" width="1" height="4" fill="#000"/>
<rect x="965" y="836" width="1" height="4" fill="#000"/>
<rect x="1029" y="836" width="1" height="4" fill="#000"/>
<rect x="1093" y="836" width="1" height="4" fill="#000"/>
<rect x="1157" y="836" width="1" height="4" fill="#000"/>
<rect x="1221" y="836" width="1" height="4" fill="#000"/>
<rect x="1285" y="836" width="1" height="4" fill="#000"/>
</g>
<text x="1647.5" y="40.6" class="ax" textLength="32.3" lengthAdjust="spacingAndGlyphs">1.36585</text>
<text x="1647.5" y="73.6" class="ax" textLength="32.3" lengthAdjust="spacingAndGlyphs">1.36325</text>
<text x="1647.5" y="106.6" class="ax" textLength="32.3" lengthAdjust="spacingAndGlyphs">1.36065</text>
<text x="1647.5" y="139.6" class="ax" textLength="32.3" lengthAdjust="spacingAndGlyphs">1.35805</text>
<text x="1647.5" y="172.6" class="ax" textLength="32.3" lengthAdjust="spacingAndGlyphs">1.35540</text>
<text x="1647.5" y="205.6" class="ax" textLength="32.3" lengthAdjust="spacingAndGlyphs">1.35280</text>
<text x="1647.5" y="238.6" class="ax" textLength="32.3" lengthAdjust="spacingAndGlyphs">1.35020</text>
<text x="1647.5" y="271.6" class="ax" textLength="32.3" lengthAdjust="spacingAndGlyphs">1.34760</text>
<text x="1647.5" y="304.6" class="ax" textLength="32.3" lengthAdjust="spacingAndGlyphs">1.34500</text>
<text x="1647.5" y="337.6" class="ax" textLength="32.3" lengthAdjust="spacingAndGlyphs">1.34240</text>
<text x="1647.5" y="370.6" class="ax" textLength="32.3" lengthAdjust="spacingAndGlyphs">1.33980</text>
<text x="1647.5" y="403.6" class="ax" textLength="32.3" lengthAdjust="spacingAndGlyphs">1.33720</text>
<text x="1647.5" y="436.6" class="ax" textLength="32.3" lengthAdjust="spacingAndGlyphs">1.33460</text>
<text x="1647.5" y="469.6" class="ax" textLength="32.3" lengthAdjust="spacingAndGlyphs">1.33200</text>
<text x="1647.5" y="502.6" class="ax" textLength="32.3" lengthAdjust="spacingAndGlyphs">1.32940</text>
<text x="1647.5" y="535.6" class="ax" textLength="32.3" lengthAdjust="spacingAndGlyphs">1.32680</text>
<text x="1647.5" y="568.6" class="ax" textLength="32.3" lengthAdjust="spacingAndGlyphs">1.32420</text>
<text x="1647.5" y="601.6" class="ax" textLength="32.3" lengthAdjust="spacingAndGlyphs">1.32160</text>
<text x="1647.5" y="221.6" class="ax" textLength="32.3" lengthAdjust="spacingAndGlyphs" style="fill:#fff;stroke:#fff">1.35148</text>
<text x="1647.5" y="255.6" class="ax" textLength="32.3" lengthAdjust="spacingAndGlyphs" style="fill:#fff;stroke:#fff">1.34880</text>
<text x="1647.5" y="295.6" class="ax" textLength="32.3" lengthAdjust="spacingAndGlyphs" style="fill:#fff;stroke:#fff">1.34565</text>
<text x="1647.5" y="314.6" class="ax" textLength="32.3" lengthAdjust="spacingAndGlyphs" style="fill:#fff;stroke:#fff">1.34427</text>
<text x="1647.5" y="349.6" class="ax" textLength="32.3" lengthAdjust="spacingAndGlyphs" style="fill:#fff;stroke:#fff">1.34140</text>
<text x="1647.5" y="384.6" class="ax" textLength="32.3" lengthAdjust="spacingAndGlyphs" style="fill:#fff;stroke:#fff">1.33865</text>
<text x="1645.3" y="614" class="ax" textLength="37.4" lengthAdjust="spacingAndGlyphs">0.005553</text>
<text x="1645.5" y="659" class="ax" textLength="17.5" lengthAdjust="spacingAndGlyphs">0.00</text>
<text x="1645" y="725" class="ax" textLength="40.3" lengthAdjust="spacingAndGlyphs">-0.007879</text>
<text x="1645.5" y="741" class="ax" textLength="14.5" lengthAdjust="spacingAndGlyphs">100</text>
<text x="1645.5" y="756" class="ax" textLength="9.5" lengthAdjust="spacingAndGlyphs">80</text>
<text x="1645.5" y="787" class="ax" textLength="9.5" lengthAdjust="spacingAndGlyphs">50</text>
<text x="1645.5" y="824" class="ax" textLength="9.5" lengthAdjust="spacingAndGlyphs">15</text>
<text x="1645.5" y="833" class="ax" textLength="4.8" lengthAdjust="spacingAndGlyphs">0</text>
<text x="4.5" y="849.1" class="ax" textLength="53.6" lengthAdjust="spacingAndGlyphs">13 Nov 2022</text>
<text x="68.5" y="849.1" class="ax" textLength="56.6" lengthAdjust="spacingAndGlyphs">14 Nov 12:00</text>
<text x="132.5" y="849.1" class="ax" textLength="56.6" lengthAdjust="spacingAndGlyphs">15 Nov 04:00</text>
<text x="196.5" y="849.1" class="ax" textLength="56.6" lengthAdjust="spacingAndGlyphs">15 Nov 20:00</text>
<text x="260.5" y="849.1" class="ax" textLength="56.6" lengthAdjust="spacingAndGlyphs">16 Nov 12:00</text>
<text x="324.5" y="849.1" class="ax" textLength="56.6" lengthAdjust="spacingAndGlyphs">17 Nov 04:00</text>
<text x="388.5" y="849.1" class="ax" textLength="56.6" lengthAdjust="spacingAndGlyphs">17 Nov 20:00</text>
<text x="452.5" y="849.1" class="ax" textLength="56.6" lengthAdjust="spacingAndGlyphs">18 Nov 12:00</text>
<text x="516.5" y="849.1" class="ax" textLength="56.6" lengthAdjust="spacingAndGlyphs">21 Nov 00:00</text>
<text x="580.5" y="849.1" class="ax" textLength="56.6" lengthAdjust="spacingAndGlyphs">21 Nov 12:00</text>
<text x="644.5" y="849.1" class="ax" textLength="56.6" lengthAdjust="spacingAndGlyphs">22 Nov 04:00</text>
<text x="708.5" y="849.1" class="ax" textLength="56.6" lengthAdjust="spacingAndGlyphs">22 Nov 20:00</text>
<text x="772.5" y="849.1" class="ax" textLength="56.6" lengthAdjust="spacingAndGlyphs">23 Nov 12:00</text>
<text x="836.5" y="849.1" class="ax" textLength="56.6" lengthAdjust="spacingAndGlyphs">24 Nov 04:00</text>
<text x="900.5" y="849.1" class="ax" textLength="56.6" lengthAdjust="spacingAndGlyphs">24 Nov 20:00</text>
<text x="964.5" y="849.1" class="ax" textLength="56.6" lengthAdjust="spacingAndGlyphs">25 Nov 12:00</text>
<text x="1028.5" y="849.1" class="ax" textLength="56.6" lengthAdjust="spacingAndGlyphs">28 Nov 04:00</text>
<text x="1092.5" y="849.1" class="ax" textLength="56.6" lengthAdjust="spacingAndGlyphs">28 Nov 20:00</text>
<text x="1156.5" y="849.1" class="ax" textLength="56.6" lengthAdjust="spacingAndGlyphs">29 Nov 12:00</text>
<text x="1220.5" y="849.1" class="ax" textLength="56.6" lengthAdjust="spacingAndGlyphs">30 Nov 04:00</text>
<text x="1284.5" y="849.1" class="ax" textLength="56.6" lengthAdjust="spacingAndGlyphs">30 Nov 20:00</text>
<polygon points="8,33 15,33 11.5,37" fill="#000"/>
<text x="20.3" y="38" class="ax" textLength="58" lengthAdjust="spacingAndGlyphs">USDCAD-,H4</text>
<text x="85.1" y="38" class="ax" textLength="139.9" lengthAdjust="spacingAndGlyphs">1.34363 1.34539 1.34251 1.34427</text>
<text x="9.5" y="616.3" class="ax" textLength="147.5" lengthAdjust="spacingAndGlyphs">MACD(12,26,9) 0.002920 0.004171</text>
<text x="9.4" y="742.7" class="ax" textLength="67.5" lengthAdjust="spacingAndGlyphs">RSI(14) 47.2868</text>
<g id="toolbar">
<rect x="2" y="0" width="1" height="20" fill="#a0a0a0" shape-rendering="crispEdges"/>
<rect x="3" y="0" width="1" height="20" fill="#ffffff" shape-rendering="crispEdges"/>
<path d="M13 2.6H20L23.7 6.2V15.4Q23.7 15.9 23.2 15.9H13Q12.5 15.9 12.5 15.4V3.1Q12.5 2.6 13 2.6Z" fill="#fff" stroke="#6e6e6e" stroke-width="1" stroke-linejoin="round"/>
<path d="M20 2.6V6.2H23.7" fill="#fff" stroke="#6e6e6e" stroke-width="1" stroke-linejoin="round"/>
<rect x="14.2" y="4.2" width="2.8" height="1.7" fill="#808080"/>
<path d="M14.2 8.5H20M14.2 10.5H18.6M14.2 12.5H16.5" stroke="#808080" stroke-width="1"/>
<path d="M20 8H24V12H28V16H24V20H20V16H16V12H20Z" fill="#0b8a0b"/>
<path d="M21 9H23V13H27V15H23V19H21V15H17V13H21Z" fill="url(#gplus)"/>
<text x="30.8" y="13.6" class="cj" textLength="36" lengthAdjust="spacingAndGlyphs">新订单</text>
<path d="M84.3 3.2L93.9 9.6L94.9 11.8L87.3 17.9L79 12Q82.6 9.2 83.3 6.6Q83.2 4.4 84.3 3.2Z" fill="url(#gold)" stroke="#a86c0a" stroke-width="1" stroke-linejoin="round"/>
<path d="M80.6 11.7L87.4 16.4" stroke="#ffeb9a" stroke-width="1.3" stroke-linecap="round"/>
<path d="M88.4 16.6L94.2 11.6" stroke="#f4e6b4" stroke-width="0.9"/>
<path d="M84.6 4.4Q84 5.6 84.3 7" stroke="#fff3b0" stroke-width="0.8" fill="none"/>
<path d="M109.1 3.3L110.4 2.4H116.8L119.9 4.5L112.1 5Z" fill="#1f72e2"/>
<path d="M109.1 3.3L112.1 5V11.4L109.1 10.4Z" fill="#12a2ff"/>
<path d="M112.1 5L119.9 4.5V10.8L112.1 11.4Z" fill="#0a8ef2"/>
<path d="M109.1 3.3L112.1 5V11.4M112.1 5L119.9 4.5" stroke="#d8f0ff" stroke-width="0.6" fill="none"/>
<path d="M113.9 6.8L118.8 6.3V7.7L113.9 8.2Z" fill="#eaf6ff"/>
<path d="M109 17.6Q106.8 17.4 106.9 15.2Q107.2 13 109.6 13.2Q110.6 10.4 114.2 10.3Q117.2 10.3 118 12.4Q120.4 11.2 122 13.2Q123.4 15 122.6 16.6Q122 17.6 120.4 17.6Z" fill="url(#cloud)" stroke="#4a6aa8" stroke-width="0.9"/>
<path d="M143 10H151A8 8 0 0 1 143 18Z" fill="url(#sig)"/>
<circle cx="143" cy="10" r="7.7" fill="none" stroke="#7d9be2" stroke-width="1" opacity="0.5"/>
<circle cx="143" cy="10" r="5.2" fill="none" stroke="#5c84e0" stroke-width="1" opacity="0.6"/>
<circle cx="143" cy="10" r="2.8" fill="none" stroke="#3c6cd8" stroke-width="1"/>
<path d="M143.6 17.8A7.8 7.8 0 0 0 150.8 10" fill="none" stroke="#3f9e48" stroke-width="1.2"/>
<circle cx="142.6" cy="9.3" r="1.7" fill="#2152d0"/>
<path d="M143.5 10V17.8" stroke="#12a012" stroke-width="1.4"/>
<path d="M162.2 9.6L177.7 8.6L171 17.6Q169.8 18.3 168.8 17.4Z" fill="url(#face)" stroke="#d6a414" stroke-width="0.7" stroke-linejoin="round"/>
<ellipse cx="170" cy="7.1" rx="8.1" ry="2.7" fill="#4fa6de" stroke="#1d7fb6" stroke-width="0.8" transform="rotate(-5 170 7.1)"/>
<path d="M165.8 6.5Q166 2 169.5 2Q173 2 173.3 5.9Q169.6 7.6 165.8 6.5Z" fill="#7cc3f2" stroke="#1d7fb6" stroke-width="0.7"/>
<circle cx="174.4" cy="13.6" r="4.2" fill="url(#stop)" stroke="#b81408" stroke-width="0.5"/>
<rect x="172.9" y="12.1" width="3.1" height="3.1" fill="#fff"/>
<text x="183.8" y="13.6" class="cj" textLength="46.6" lengthAdjust="spacingAndGlyphs">自动交易</text>
<rect x="238" y="0" width="1" height="22" fill="#a0a0a0" shape-rendering="crispEdges"/>
<rect x="239" y="0" width="1" height="22" fill="#ffffff" shape-rendering="crispEdges"/>
<rect x="242" y="1" width="3" height="1" fill="#a8a8a8" shape-rendering="crispEdges"/>
<rect x="242" y="3" width="3" height="1" fill="#a8a8a8" shape-rendering="crispEdges"/>
<rect x="242" y="5" width="3" height="1" fill="#a8a8a8" shape-rendering="crispEdges"/>
<rect x="242" y="7" width="3" height="1" fill="#a8a8a8" shape-rendering="crispEdges"/>
<rect x="242" y="9" width="3" height="1" fill="#a8a8a8" shape-rendering="crispEdges"/>
<rect x="242" y="11" width="3" height="1" fill="#a8a8a8" shape-rendering="crispEdges"/>
<rect x="242" y="13" width="3" height="1" fill="#a8a8a8" shape-rendering="crispEdges"/>
<rect x="242" y="15" width="3" height="1" fill="#a8a8a8" shape-rendering="crispEdges"/>
<rect x="242" y="17" width="3" height="1" fill="#a8a8a8" shape-rendering="crispEdges"/>
<rect x="242" y="19" width="3" height="1" fill="#a8a8a8" shape-rendering="crispEdges"/>
<path d="M256.5 5V17.8M254 15.5H266.5" stroke="#505050" stroke-width="1.25" fill="none"/>
<path d="M256.5 3.8L258.3 6.6H254.7ZM268.2 15.5L265.6 17.3V13.7Z" fill="#505050"/>
<path d="M262.5 5V14M262.5 6H265.5M259.5 12.5H262.5" stroke="#108010" stroke-width="1.4" fill="none"/>
<rect x="276" y="1" width="1" height="19" fill="#a0a0a0" shape-rendering="crispEdges"/>
<rect x="277" y="1" width="1" height="19" fill="#ffffff" shape-rendering="crispEdges"/>
<rect x="278" y="0" width="23" height="21" fill="url(#chk)" shape-rendering="crispEdges"/>
<path d="M284.5 5V17.8M282 15.5H294.5" stroke="#505050" stroke-width="1.25" fill="none"/>
<path d="M284.5 3.8L286.3 6.6H282.7ZM296.2 15.5L293.6 17.3V13.7Z" fill="#505050"/>
<path d="M290.5 2V14" stroke="#108010" stroke-width="1.2"/>
<rect x="288.5" y="4.5" width="4" height="7.5" fill="#30e040" stroke="#108010" stroke-width="0.9"/>
<path d="M312.5 5V17.8M310 15.5H322.5" stroke="#505050" stroke-width="1.25" fill="none"/>
<path d="M312.5 3.8L314.3 6.6H310.7ZM324.2 15.5L321.6 17.3V13.7Z" fill="#505050"/>
<path d="M311.5 13Q315 8 317.5 7Q320 7.5 323 11.5" stroke="#209020" stroke-width="1.3" fill="none"/>
<rect x="333" y="1" width="1" height="19" fill="#a0a0a0" shape-rendering="crispEdges"/>
<rect x="334" y="1" width="1" height="19" fill="#ffffff" shape-rendering="crispEdges"/>
<path d="M352 12L357.2 16.6" stroke="#b8901c" stroke-width="3" stroke-linecap="round"/>
<path d="M352.3 11.8L357 16" stroke="#f2d860" stroke-width="1.4" stroke-linecap="round"/>
<circle cx="348" cy="7.8" r="5.4" fill="url(#lens)" stroke="#2a78c8" stroke-width="1.3"/>
<path d="M345 7.8H351" stroke="#2a78a8" stroke-width="1.7"/>
<path d="M348 4.8V10.8" stroke="#2a78a8" stroke-width="1.7"/>
<path d="M380 12L385.2 16.6" stroke="#b8901c" stroke-width="3" stroke-linecap="round"/>
<path d="M380.3 11.8L385 16" stroke="#f2d860" stroke-width="1.4" stroke-linecap="round"/>
<circle cx="376" cy="7.8" r="5.4" fill="url(#lens)" stroke="#2a78c8" stroke-width="1.3"/>
<path d="M373 7.8H379" stroke="#2a78a8" stroke-width="1.7"/>
<rect x="398.3" y="2.2" width="7.6" height="7.6" fill="#3a9a1c"/>
<rect x="399.3" y="5.2" width="5.6" height="3.6" fill="#fff"/>
<rect x="400.3" y="6.2" width="3.6" height="1" fill="#bfe8a8"/>
<rect x="406.3" y="2.2" width="7.6" height="7.6" fill="#2058d0"/>
<rect x="407.3" y="5.2" width="5.6" height="3.6" fill="#fff"/>
<rect x="408.3" y="6.2" width="3.6" height="1" fill="#b8ccf8"/>
<rect x="398.3" y="10.2" width="7.6" height="7.6" fill="#2058d0"/>
<rect x="399.3" y="13.2" width="5.6" height="3.6" fill="#fff"/>
<rect x="400.3" y="14.2" width="3.6" height="1" fill="#b8ccf8"/>
<rect x="406.3" y="10.2" width="7.6" height="7.6" fill="#3a9a1c"/>
<rect x="407.3" y="13.2" width="5.6" height="3.6" fill="#fff"/>
<rect x="408.3" y="14.2" width="3.6" height="1" fill="#bfe8a8"/>
<rect x="423" y="1" width="1" height="19" fill="#a0a0a0" shape-rendering="crispEdges"/>
<rect x="424" y="1" width="1" height="19" fill="#ffffff" shape-rendering="crispEdges"/>
<rect x="428" y="1" width="1" height="19" fill="#a0a0a0" shape-rendering="crispEdges"/>
<rect x="429" y="1" width="1" height="19" fill="#ffffff" shape-rendering="crispEdges"/>
<rect x="430" y="0" width="23" height="21" fill="url(#chk)" shape-rendering="crispEdges"/>
<path d="M436.5 5V17.8M434 15.5H446.5" stroke="#505050" stroke-width="1.25" fill="none"/>
<path d="M436.5 3.8L438.3 6.6H434.7ZM448.2 15.5L445.6 17.3V13.7Z" fill="#505050"/>
<path d="M441.3 6.3L445.2 9.6L441.3 13Z" fill="#7fe08a" stroke="#18a030" stroke-width="1"/>
<rect x="456" y="1" width="1" height="19" fill="#a0a0a0" shape-rendering="crispEdges"/>
<rect x="457" y="1" width="1" height="19" fill="#ffffff" shape-rendering="crispEdges"/>
<rect x="458" y="0" width="23" height="21" fill="url(#chk)" shape-rendering="crispEdges"/>
<path d="M464.5 5V17.8M462 15.5H474.5" stroke="#505050" stroke-width="1.25" fill="none"/>
<path d="M464.5 3.8L466.3 6.6H462.7ZM476.2 15.5L473.6 17.3V13.7Z" fill="#505050"/>
<path d="M470.5 4V14" stroke="#2070b0" stroke-width="1.3"/>
<path d="M476 9.5H472M474 7.5L471.5 9.5L474 11.5" stroke="#e04808" stroke-width="1.2" fill="none"/>
<rect x="485" y="1" width="1" height="19" fill="#a0a0a0" shape-rendering="crispEdges"/>
<rect x="486" y="1" width="1" height="19" fill="#ffffff" shape-rendering="crispEdges"/>
<path d="M496 2.6H503L506.7 6.2V15.4Q506.7 15.9 506.2 15.9H496Q495.5 15.9 495.5 15.4V3.1Q495.5 2.6 496 2.6Z" fill="#fff" stroke="#6e6e6e" stroke-width="1" stroke-linejoin="round"/>
<path d="M503 2.6V6.2H506.7" fill="#fff" stroke="#6e6e6e" stroke-width="1" stroke-linejoin="round"/>
<path d="M501 5.2Q498.6 4.8 498.6 7.6V11Q498.6 13.6 497 13.4M497.2 8.4H500.4" stroke="#5a4a2a" stroke-width="0.9" fill="none"/>
<path d="M503 8H507V12H511V16H507V20H503V16H499V12H503Z" fill="#0b8a0b"/>
<path d="M504 9H506V13H510V15H506V19H504V15H500V13H504Z" fill="url(#gplus)"/>
<polygon points="517,9 523,9 520,12.2" fill="#000"/>
<circle cx="541" cy="10" r="6.6" fill="#fff" stroke="url(#clk)" stroke-width="2.5"/>
<circle cx="541" cy="10" r="5.4" fill="#f4f8ff" stroke="#9cc4f0" stroke-width="0.6"/>
<path d="M541 6V10.3H544" stroke="#303030" stroke-width="1.2" fill="none"/>
<polygon points="556,9 562,9 559,12.2" fill="#000"/>
<rect x="572.5" y="3.5" width="15" height="13" fill="#fff" stroke="#3a78c8" stroke-width="1"/>
<rect x="572.5" y="3.5" width="15" height="2" fill="#5a9ae0"/>
<path d="M573 10.5H587" stroke="#3a78c8" stroke-width="0.8"/>
<path d="M574.5 9L577.5 8L580 7.5L582.5 8L585.5 7" stroke="#b02010" stroke-width="1.2" fill="none"/>
<path d="M574.5 14.5L577.5 13.5L580 14L582.5 12.5L585.5 14.5" stroke="#189028" stroke-width="1.2" fill="none"/>
<polygon points="595,9 601,9 598,12.2" fill="#000"/>
<rect x="606" y="0" width="1" height="22" fill="#a0a0a0" shape-rendering="crispEdges"/>
<rect x="607" y="0" width="1" height="22" fill="#ffffff" shape-rendering="crispEdges"/>
<rect x="610" y="1" width="3" height="1" fill="#a8a8a8" shape-rendering="crispEdges"/>
<rect x="610" y="3" width="3" height="1" fill="#a8a8a8" shape-rendering="crispEdges"/>
<rect x="610" y="5" width="3" height="1" fill="#a8a8a8" shape-rendering="crispEdges"/>
<rect x="610" y="7" width="3" height="1" fill="#a8a8a8" shape-rendering="crispEdges"/>
<rect x="610" y="9" width="3" height="1" fill="#a8a8a8" shape-rendering="crispEdges"/>
<rect x="610" y="11" width="3" height="1" fill="#a8a8a8" shape-rendering="crispEdges"/>
<rect x="610" y="13" width="3" height="1" fill="#a8a8a8" shape-rendering="crispEdges"/>
<rect x="610" y="15" width="3" height="1" fill="#a8a8a8" shape-rendering="crispEdges"/>
<rect x="610" y="17" width="3" height="1" fill="#a8a8a8" shape-rendering="crispEdges"/>
<rect x="610" y="19" width="3" height="1" fill="#a8a8a8" shape-rendering="crispEdges"/>
<rect x="616" y="1" width="1" height="19" fill="#a0a0a0" shape-rendering="crispEdges"/>
<rect x="617" y="1" width="1" height="19" fill="#ffffff" shape-rendering="crispEdges"/>
<rect x="618" y="0" width="23" height="21" fill="url(#chk)" shape-rendering="crispEdges"/>
<path d="M624.3 3V14.3L627 11.9L629.6 17L631.6 16L629.2 11.2L632.3 10.7Z" fill="#505050"/>
<path d="M656.5 3V9M656.5 12V18M649 10.5H655M658 10.5H664" stroke="#505050" stroke-width="1.2"/>
<rect x="673" y="1" width="1" height="19" fill="#a0a0a0" shape-rendering="crispEdges"/>
<rect x="674" y="1" width="1" height="19" fill="#ffffff" shape-rendering="crispEdges"/>
<path d="M690.5 4V17" stroke="#505050" stroke-width="1.3"/>
<path d="M713 10.5H725" stroke="#505050" stroke-width="1.3"/>
<path d="M741 16.8L753 4.8" stroke="#505050" stroke-width="1.2"/>
<path d="M766.6 11.8L775.2 4M767.6 14.6L780.6 5.2M771.6 16.8L781.2 8.6" stroke="#484848" stroke-width="0.95"/>
<path d="M769.6 9.8V16.6M772.8 8V14M775.8 5.4V12.2M778.5 2.2V9.4" stroke="#404040" stroke-width="1.2"/>
<text x="777.8" y="18.9" style="font-size:6.8px;font-weight:bold;fill:#303030">E</text>
<path d="M796 3.5H809" stroke="#505050" stroke-width="1" stroke-dasharray="1,1" shape-rendering="crispEdges"/>
<path d="M796 6.5H809" stroke="#505050" stroke-width="1" stroke-dasharray="1,1" shape-rendering="crispEdges"/>
<path d="M796 10.5H809" stroke="#505050" stroke-width="1" stroke-dasharray="1,1" shape-rendering="crispEdges"/>
<path d="M796 14.5H805" stroke="#505050" stroke-width="1" stroke-dasharray="1,1" shape-rendering="crispEdges"/>
<text x="805.6" y="18.9" style="font-size:6.8px;font-weight:bold;fill:#303030">F</text>
<text x="826.3" y="14.8" style="font-size:11.8px;fill:#505050;stroke:#505050;stroke-width:0.3px">A</text>
<rect x="853.5" y="4.5" width="11" height="12" fill="none" stroke="#505050" stroke-width="1" stroke-dasharray="1,1" shape-rendering="crispEdges"/>
<text x="855.3" y="14.8" style="font-size:10.8px;fill:#505050;stroke:#505050;stroke-width:0.3px">T</text>
<path d="M883.45 3.8L887.2 7.8L884.8 7.5V8.9H882.1V7.5L879.7 7.8Z" fill="#484848"/>
<path d="M890.4 17.1L886.7 13.2L889.1 13.5V12H891.8V13.5L894.1 13.2Z" fill="#484848"/>
<path d="M881.9 11.3L884.4 13.9L888.8 8.2" stroke="#484848" stroke-width="1.35" fill="none"/>
<polygon points="900.5,9 906.5,9 903.5,12.2" fill="#000"/>
<rect x="912" y="0" width="1" height="22" fill="#a0a0a0" shape-rendering="crispEdges"/>
<rect x="913" y="0" width="1" height="22" fill="#ffffff" shape-rendering="crispEdges"/>
<rect x="916" y="1" width="3" height="1" fill="#a8a8a8" shape-rendering="crispEdges"/>
<rect x="916" y="3" width="3" height="1" fill="#a8a8a8" shape-rendering="crispEdges"/>
<rect x="916" y="5" width="3" height="1" fill="#a8a8a8" shape-rendering="crispEdges"/>
<rect x="916" y="7" width="3" height="1" fill="#a8a8a8" shape-rendering="crispEdges"/>
<rect x="916" y="9" width="3" height="1" fill="#a8a8a8" shape-rendering="crispEdges"/>
<rect x="916" y="11" width="3" height="1" fill="#a8a8a8" shape-rendering="crispEdges"/>
<rect x="916" y="13" width="3" height="1" fill="#a8a8a8" shape-rendering="crispEdges"/>
<rect x="916" y="15" width="3" height="1" fill="#a8a8a8" shape-rendering="crispEdges"/>
<rect x="916" y="17" width="3" height="1" fill="#a8a8a8" shape-rendering="crispEdges"/>
<rect x="916" y="19" width="3" height="1" fill="#a8a8a8" shape-rendering="crispEdges"/>
<rect x="1063" y="0" width="25" height="21" fill="url(#chk)"/>
<rect x="1062" y="0" width="1" height="20" fill="#a0a0a0" shape-rendering="crispEdges"/>
<rect x="1063" y="0" width="1" height="20" fill="#ffffff" shape-rendering="crispEdges"/>
<text x="927.0" y="13.9" class="tb" textLength="13.6" lengthAdjust="spacingAndGlyphs">M1</text>
<text x="954.9" y="13.9" class="tb" textLength="13.9" lengthAdjust="spacingAndGlyphs">M5</text>
<text x="980.9" y="13.9" class="tb" textLength="18.9" lengthAdjust="spacingAndGlyphs">M15</text>
<text x="1009.0" y="13.9" class="tb" textLength="18.5" lengthAdjust="spacingAndGlyphs">M30</text>
<text x="1040.0" y="13.9" class="tb" textLength="12.9" lengthAdjust="spacingAndGlyphs">H1</text>
<text x="1067.2" y="13.9" class="tb" textLength="12.9" lengthAdjust="spacingAndGlyphs">H4</text>
<text x="1096.0" y="13.9" class="tb" textLength="12.5" lengthAdjust="spacingAndGlyphs">D1</text>
<text x="1123.9" y="13.9" class="tb" textLength="14.6" lengthAdjust="spacingAndGlyphs">W1</text>
<text x="1150.3" y="13.9" class="tb" textLength="15.5" lengthAdjust="spacingAndGlyphs">MN</text>
<rect x="1173" y="0" width="1" height="22" fill="#a0a0a0" shape-rendering="crispEdges"/>
<rect x="1174" y="0" width="1" height="22" fill="#ffffff" shape-rendering="crispEdges"/>
<path d="M1640.2 10.8L1636.3 14.7" stroke="#2a62d4" stroke-width="2.3" stroke-linecap="round"/>
<circle cx="1643.5" cy="7.5" r="3.9" fill="#f4f4fc" stroke="#2a62d4" stroke-width="1.2"/>
<path d="M1660.4 12.2Q1660.4 7.2 1666.6 7.2Q1673 7.2 1673 12.2Q1673 16.6 1667 16.9L1663.4 18.9L1664 16.7Q1660.4 16 1660.4 12.2Z" fill="#e6e6ee" stroke="#b2b2b2" stroke-width="0.9"/>
<circle cx="1674.5" cy="7.5" r="8.2" fill="url(#badge)"/>
<text x="1670.2" y="11.9" style="font-size:12px;fill:#fff;stroke:#fff;stroke-width:0.4px">1</text>
</g>
</svg></body></html>
